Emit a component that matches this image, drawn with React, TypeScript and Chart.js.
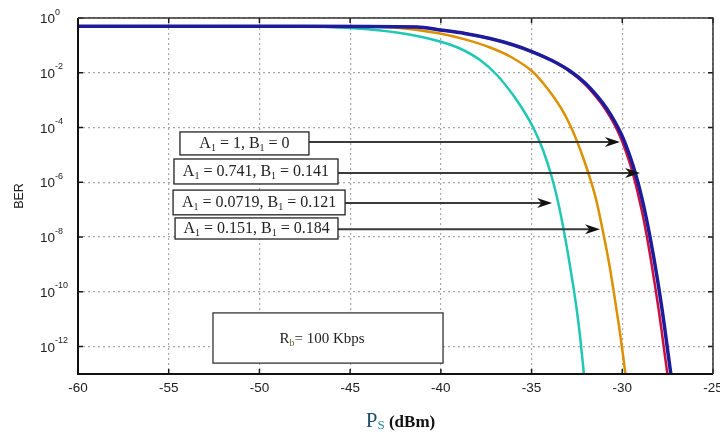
import React, { useEffect, useRef } from "react";
import { Chart, registerables } from "chart.js";

Chart.register(...registerables);

// ---------- axis ticks ----------
const xTickValues = [-60, -55, -50, -45, -40, -35, -30, -25];
const yTickValues = [1, 1e-2, 1e-4, 1e-6, 1e-8, 1e-10, 1e-12];
const yTickExponents = ["0", "-2", "-4", "-6", "-8", "-10", "-12"];

// ---------- series (Ps in dBm, BER) ----------
// A1 = 1, B1 = 0 (navy)
const psNavy = [-60, -47.76, -41.32, -40.05, -38.67, -37.29, -36.08, -34.92, -33.82, -32.88, -32.05, -31.39, -30.84, -30.4, -30.01, -29.68, -29.4, -29.13, -28.91, -28.69, -28.47, -28.25, -28.03, -27.81, -27.64, -27.48, -27.31, -27.15];
const berNavy = [5.0e-1, 5.0e-1, 4.69e-1, 3.65e-1, 2.72e-1, 1.78e-1, 1.077e-1, 5.73e-2, 2.69e-2, 1.16e-2, 4.23e-3, 1.42e-3, 4.75e-4, 1.59e-4, 4.91e-5, 1.39e-5, 3.94e-6, 9.44e-7, 2.46e-7, 5.41e-8, 1.0e-8, 1.58e-9, 2.1e-10, 2.37e-11, 3.72e-12, 5.85e-13, 8.45e-14, 1.12e-14];
// A1 = 0.741, B1 = 0.141 (red)
const psRed = [-60, -47.76, -41.32, -40.05, -38.67, -37.29, -36.08, -34.93, -33.85, -32.93, -32.12, -31.48, -30.94, -30.51, -30.13, -29.81, -29.54, -29.28, -29.07, -28.85, -28.64, -28.43, -28.22, -28.0, -27.83, -27.67, -27.5, -27.34];
const berRed = [5.0e-1, 5.0e-1, 4.69e-1, 3.65e-1, 2.72e-1, 1.78e-1, 1.077e-1, 5.73e-2, 2.69e-2, 1.16e-2, 4.23e-3, 1.42e-3, 4.75e-4, 1.59e-4, 4.91e-5, 1.39e-5, 3.94e-6, 9.44e-7, 2.46e-7, 5.41e-8, 1.0e-8, 1.58e-9, 2.1e-10, 2.37e-11, 3.72e-12, 5.85e-13, 8.45e-14, 1.12e-14];
// A1 = 0.151, B1 = 0.184 (orange)
const psOrange = [-60, -45.01, -42.25, -40.05, -38.67, -37.29, -36.13, -34.92, -34.37, -33.82, -33.38, -32.88, -32.33, -31.89, -31.45, -31.06, -30.73, -30.46, -30.18, -29.96, -29.8, -29.63];
const berOrange = [5.0e-1, 5.0e-1, 4.31e-1, 2.72e-1, 1.655e-1, 8.37e-2, 3.77e-2, 1.067e-2, 4.23e-3, 1.42e-3, 5.18e-4, 1.24e-4, 1.64e-5, 2.38e-6, 2.46e-7, 1.53e-8, 1.13e-9, 9.08e-11, 5.66e-12, 4.94e-13, 7.15e-14, 9.5e-15];
// A1 = 0.0719, B1 = 0.121 (cyan)
const psCyan = [-60, -47.76, -45.01, -42.25, -40.05, -38.95, -37.84, -36.91, -36.02, -35.36, -34.87, -34.37, -33.87, -33.54, -33.27, -32.99, -32.72, -32.5, -32.33, -32.17, -32.06, -31.95];
const berCyan = [5.0e-1, 5.0e-1, 4.31e-1, 2.83e-1, 1.387e-1, 7.69e-2, 2.92e-2, 8.3e-3, 1.54e-3, 3.4e-4, 8.85e-5, 1.51e-5, 1.44e-6, 1.91e-7, 2.54e-8, 2.41e-9, 1.94e-10, 2.0e-11, 2.44e-12, 2.32e-13, 3.97e-14, 5.74e-15];

// ---------- annotation labels ----------
const labelA1 = ["1", "0.741", "0.0719", "0.151"];
const labelB1 = ["0", "0.141", "0.121", "0.184"];
// annotation boxes / arrows in data coordinates
const boxLeft = [-54.38, -54.71, -54.76, -54.65];
const boxRight = [-47.27, -45.67, -45.28, -45.67];
const boxTop = [6.9e-5, 7.1e-6, 5.2e-7, 5.0e-8];
const boxBottom = [1.0e-5, 8.7e-7, 6.5e-8, 8.5e-9];
const arrowY = [2.95e-5, 2.2e-6, 1.74e-7, 1.95e-8];
const arrowTipX = [-30.13, -29.02, -33.87, -31.23];
const rateBox = { left: -52.56, right: -39.88, top: 1.7e-11, bottom: 2.5e-13 };
const rateValue = "= 100 Kbps";

const SERIF = "'Liberation Serif', 'Times New Roman', serif";
const SANS = "'Liberation Sans', Arial, sans-serif";

type Seg = { t: string; font: string; color: string; dy?: number };

function drawSegs(ctx: CanvasRenderingContext2D, segs: Seg[], x: number, y: number, align: "left" | "center") {
  ctx.textAlign = "left";
  ctx.textBaseline = "alphabetic";
  const widths = segs.map((s) => {
    ctx.font = s.font;
    return ctx.measureText(s.t).width;
  });
  const total = widths.reduce((a, b) => a + b, 0);
  let cx = align === "center" ? x - total / 2 : x;
  segs.forEach((s, i) => {
    ctx.font = s.font;
    ctx.fillStyle = s.color;
    ctx.fillText(s.t, cx, y + (s.dy || 0));
    cx += widths[i];
  });
}

const decorPlugin = {
  id: "decor",
  afterDraw(chart: any) {
    const { ctx, chartArea: a, scales } = chart;
    const xs = scales.x;
    const ys = scales.y;
    ctx.save();

    // tick marks (inside, all four sides)
    ctx.strokeStyle = "#1a1a1a";
    ctx.lineWidth = 1.5;
    ctx.beginPath();
    xTickValues.forEach((v) => {
      const px = xs.getPixelForValue(v);
      ctx.moveTo(px, a.bottom);
      ctx.lineTo(px, a.bottom - 5);
      ctx.moveTo(px, a.top);
      ctx.lineTo(px, a.top + 5);
    });
    yTickValues.forEach((v) => {
      const py = ys.getPixelForValue(v);
      ctx.moveTo(a.left, py);
      ctx.lineTo(a.left + 5, py);
      ctx.moveTo(a.right, py);
      ctx.lineTo(a.right - 5, py);
    });
    ctx.stroke();

    // frame
    ctx.lineWidth = 2;
    ctx.strokeStyle = "#111";
    ctx.beginPath();
    ctx.moveTo(a.left, a.top);
    ctx.lineTo(a.left, a.bottom);
    ctx.lineTo(a.right, a.bottom);
    ctx.stroke();
    ctx.lineWidth = 1.5;
    ctx.strokeStyle = "#333";
    ctx.beginPath();
    ctx.moveTo(a.left, a.top);
    ctx.lineTo(a.right, a.top);
    ctx.lineTo(a.right, a.bottom);
    ctx.stroke();

    // y tick labels 10^n
    yTickValues.forEach((v, i) => {
      const py = ys.getPixelForValue(v);
      drawSegs(
        ctx,
        [
          { t: "10", font: `13.5px ${SANS}`, color: "#222", dy: 5 },
          { t: yTickExponents[i], font: `9px ${SANS}`, color: "#222", dy: -3.5 },
        ],
        40,
        py,
        "left"
      );
    });

    // y axis title
    ctx.save();
    ctx.translate(20, (a.top + a.bottom) / 2);
    ctx.rotate(-Math.PI / 2);
    ctx.font = `12.5px ${SANS}`;
    ctx.fillStyle = "#222";
    ctx.textAlign = "center";
    ctx.textBaseline = "middle";
    ctx.fillText("BER", 0, 0);
    ctx.restore();

    // x axis title
    drawSegs(
      ctx,
      [
        { t: "P", font: `21px ${SERIF}`, color: "#1f4e6b" },
        { t: "S", font: `13px ${SERIF}`, color: "#2b8c99", dy: 2 },
        { t: " (dBm)", font: `bold 17px ${SERIF}`, color: "#111" },
      ],
      (a.left + a.right) / 2 + 5,
      427,
      "center"
    );

    // annotation arrows and boxes
    labelA1.forEach((aVal, i) => {
      const l = xs.getPixelForValue(boxLeft[i]);
      const r = xs.getPixelForValue(boxRight[i]);
      const t = ys.getPixelForValue(boxTop[i]);
      const b = ys.getPixelForValue(boxBottom[i]);
      const ay = ys.getPixelForValue(arrowY[i]);
      const tip = xs.getPixelForValue(arrowTipX[i]);
      const L = 15;
      const W = 5;
      ctx.strokeStyle = "#3a3a3a";
      ctx.lineWidth = 2;
      ctx.beginPath();
      ctx.moveTo(r, ay);
      ctx.lineTo(tip - L * 0.6, ay);
      ctx.stroke();
      ctx.fillStyle = "#111";
      ctx.beginPath();
      ctx.moveTo(tip, ay);
      ctx.lineTo(tip - L, ay - W);
      ctx.lineTo(tip - L * 0.7, ay);
      ctx.lineTo(tip - L, ay + W);
      ctx.closePath();
      ctx.fill();
      ctx.fillStyle = "#fff";
      ctx.fillRect(l, t, r - l, b - t);
      ctx.strokeStyle = "#222";
      ctx.lineWidth = 1.3;
      ctx.strokeRect(l, t, r - l, b - t);
      drawSegs(
        ctx,
        [
          { t: "A", font: `16px ${SERIF}`, color: "#222" },
          { t: "1", font: `10px ${SERIF}`, color: "#222", dy: 3 },
          { t: " = " + aVal + ", B", font: `16px ${SERIF}`, color: "#222" },
          { t: "1", font: `10px ${SERIF}`, color: "#222", dy: 3 },
          { t: " = " + labelB1[i], font: `16px ${SERIF}`, color: "#222" },
        ],
        (l + r) / 2,
        (t + b) / 2 + 5,
        "center"
      );
    });

    // data-rate box
    {
      const l = xs.getPixelForValue(rateBox.left);
      const r = xs.getPixelForValue(rateBox.right);
      const t = ys.getPixelForValue(rateBox.top);
      const b = ys.getPixelForValue(rateBox.bottom);
      ctx.fillStyle = "#fff";
      ctx.fillRect(l, t, r - l, b - t);
      ctx.strokeStyle = "#333";
      ctx.lineWidth = 1.3;
      ctx.strokeRect(l, t, r - l, b - t);
      drawSegs(
        ctx,
        [
          { t: "R", font: `15px ${SERIF}`, color: "#222" },
          { t: "b", font: `10px ${SERIF}`, color: "#556b2f", dy: 3 },
          { t: rateValue, font: `15px ${SERIF}`, color: "#222" },
        ],
        (l + r) / 2 - 6,
        (t + b) / 2 + 5,
        "center"
      );
    }

    ctx.restore();
  },
};

function toPoints(xs: number[], ys: number[]) {
  return xs.map((x, i) => ({ x, y: ys[i] }));
}

export default function App() {
  const ref = useRef<HTMLCanvasElement | null>(null);

  useEffect(() => {
    document.body.style.margin = "0";
    const canvas = ref.current;
    if (!canvas) return;
    const lineCommon = {
      pointRadius: 0,
      fill: false,
      cubicInterpolationMode: "monotone" as const,
      borderJoinStyle: "round" as const,
    };
    const chart = new Chart(canvas, {
      type: "line",
      data: {
        datasets: [
          { ...lineCommon, label: "A1 = 1, B1 = 0", data: toPoints(psNavy, berNavy), borderColor: "#1c1c9c", borderWidth: 3.5 },
          { ...lineCommon, label: "A1 = 0.741, B1 = 0.141", data: toPoints(psRed, berRed), borderColor: "#cc1040", borderWidth: 2.5 },
          { ...lineCommon, label: "A1 = 0.151, B1 = 0.184", data: toPoints(psOrange, berOrange), borderColor: "#dd9000", borderWidth: 2.5 },
          { ...lineCommon, label: "A1 = 0.0719, B1 = 0.121", data: toPoints(psCyan, berCyan), borderColor: "#1ec8b4", borderWidth: 2.5 },
        ],
      },
      options: {
        animation: false,
        responsive: false,
        devicePixelRatio: 1,
        layout: { padding: { top: 18, right: 7, left: 0, bottom: 0 } },
        plugins: { legend: { display: false }, tooltip: { enabled: false }, title: { display: false } },
        scales: {
          x: {
            type: "linear",
            min: -60,
            max: -25,
            afterBuildTicks: (scale: any) => {
              scale.ticks = xTickValues.map((v) => ({ value: v }));
            },
            afterFit: (scale: any) => {
              scale.height = 60;
              scale.paddingLeft = 0;
              scale.paddingRight = 0;
            },
            ticks: {
              padding: 6,
              color: "#222",
              font: { family: SANS, size: 13.5 },
              callback: (v: any) => String(v),
              maxRotation: 0,
            },
            grid: { color: "#a8a8a8", lineWidth: 1.2, drawTicks: false },
            border: { display: false, dash: [2, 3] },
          },
          y: {
            type: "logarithmic",
            min: 1e-13,
            max: 1,
            afterBuildTicks: (scale: any) => {
              scale.ticks = yTickValues.map((v) => ({ value: v }));
            },
            afterFit: (scale: any) => {
              scale.width = 78;
            },
            ticks: { display: false },
            grid: { color: "#a8a8a8", lineWidth: 1.2, drawTicks: false },
            border: { display: false, dash: [2, 3] },
          },
        },
      },
      plugins: [decorPlugin],
    } as any);
    return () => chart.destroy();
  }, []);

  return (
    <div style={{ width: 720, height: 434, background: "#fff" }}>
      <canvas ref={ref} width={720} height={434} style={{ display: "block" }} />
    </div>
  );
}
